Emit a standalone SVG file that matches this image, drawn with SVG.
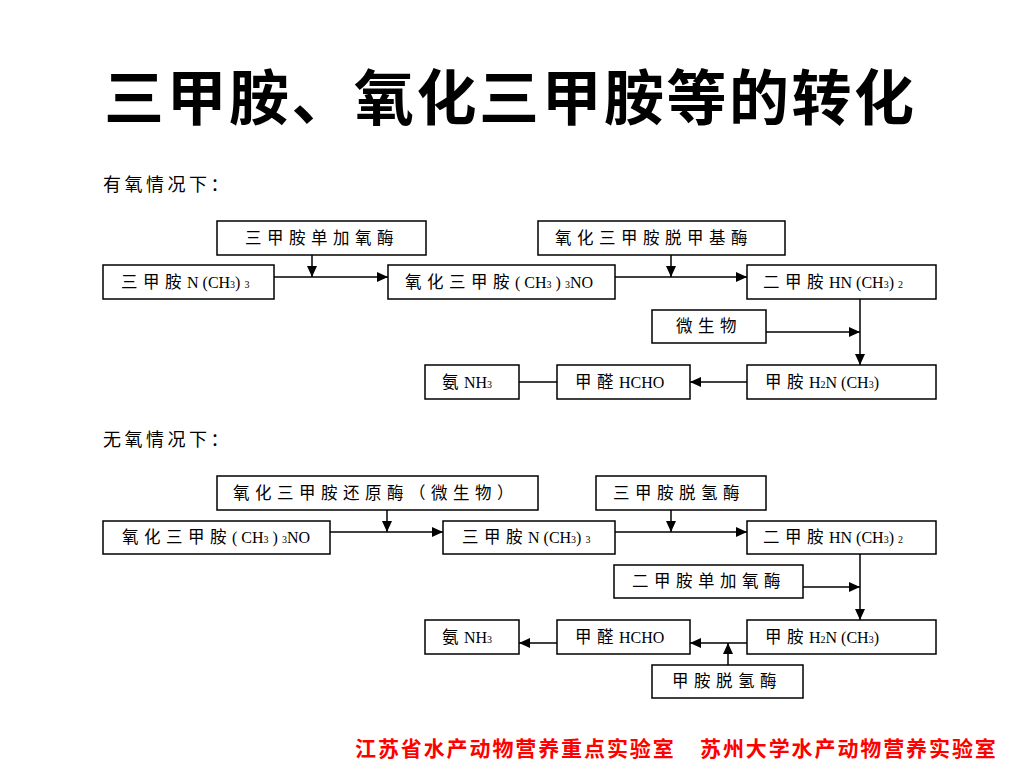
<svg xmlns="http://www.w3.org/2000/svg" width="1024" height="768" viewBox="0 0 1024 768">
<style>
.box{fill:#fff;stroke:#000;stroke-width:1.5}
.lbl{font-family:"Liberation Serif","Noto Sans CJK SC",serif;font-size:16px;fill:#000}
.cj{font-family:"Noto Sans CJK SC",sans-serif;font-size:16.5px;letter-spacing:5.5px}
.sub{font-size:10px}
.con{fill:none;stroke:#000;stroke-width:1.5}
.hdr{font-family:"Noto Sans CJK SC",sans-serif;font-size:18px;letter-spacing:3.5px;fill:#000}
</style>
<defs>
<marker id="ah" markerUnits="userSpaceOnUse" markerWidth="11" markerHeight="10" refX="11" refY="5" orient="auto">
<path d="M0,0 L11,5 L0,10 z" fill="#000"/>
</marker>
</defs>
<rect width="1024" height="768" fill="#fff"/>
<text x="104" y="120" font-family="Noto Sans CJK SC,sans-serif" font-size="60" font-weight="bold" letter-spacing="2.5" fill="#000">三甲胺、氧化三甲胺等的转化</text>
<text class="hdr" x="103" y="191">有氧情况下：</text>
<text class="hdr" x="103" y="446">无氧情况下：</text>

<g id="connectors">
<path class="con" d="M312,255 V277" marker-end="url(#ah)"/>
<path class="con" d="M274,277 H388" marker-end="url(#ah)"/>
<path class="con" d="M671,255 V277" marker-end="url(#ah)"/>
<path class="con" d="M615,277 H747" marker-end="url(#ah)"/>
<path class="con" d="M860,299 V365" marker-end="url(#ah)"/>
<path class="con" d="M766,332 H860" marker-end="url(#ah)"/>
<path class="con" d="M747,382 H690" marker-end="url(#ah)"/>
<path class="con" d="M557,382 H519"/>
<path class="con" d="M387,510 V532" marker-end="url(#ah)"/>
<path class="con" d="M330,532 H443" marker-end="url(#ah)"/>
<path class="con" d="M671,510 V532" marker-end="url(#ah)"/>
<path class="con" d="M615,532 H747" marker-end="url(#ah)"/>
<path class="con" d="M860,554 V620" marker-end="url(#ah)"/>
<path class="con" d="M803,587 H860" marker-end="url(#ah)"/>
<path class="con" d="M747,643 H690" marker-end="url(#ah)"/>
<path class="con" d="M728,665 V643" marker-end="url(#ah)"/>
<path class="con" d="M557,643 H519" marker-end="url(#ah)"/>
</g>

<g id="n1"><rect class="box" x="217" y="221" width="209" height="34"/>
<text class="lbl" x="245" y="244"><tspan class="cj">三甲胺单加氧酶</tspan></text></g>
<g id="n2"><rect class="box" x="103" y="265" width="171" height="34"/>
<text class="lbl" x="121" y="288"><tspan class="cj">三甲胺</tspan>N (CH<tspan class="sub">3</tspan>) <tspan class="sub">3</tspan></text></g>
<g id="n3"><rect class="box" x="388" y="265" width="227" height="34"/>
<text class="lbl" x="405" y="288"><tspan class="cj">氧化三甲胺</tspan>( CH<tspan class="sub">3</tspan> ) <tspan class="sub">3</tspan>NO</text></g>
<g id="n4"><rect class="box" x="538" y="221" width="247" height="34"/>
<text class="lbl" x="555" y="244"><tspan class="cj">氧化三甲胺脱甲基酶</tspan></text></g>
<g id="n5"><rect class="box" x="747" y="265" width="189" height="34"/>
<text class="lbl" x="763" y="288"><tspan class="cj">二甲胺</tspan>HN (CH<tspan class="sub">3</tspan>) <tspan class="sub">2</tspan></text></g>
<g id="n6"><rect class="box" x="652" y="310" width="114" height="33"/>
<text class="lbl" x="676" y="332"><tspan class="cj">微生物</tspan></text></g>
<g id="n7"><rect class="box" x="747" y="365" width="189" height="34"/>
<text class="lbl" x="765" y="388"><tspan class="cj">甲胺</tspan>H<tspan class="sub">2</tspan>N (CH<tspan class="sub">3</tspan>)</text></g>
<g id="n8"><rect class="box" x="557" y="365" width="133" height="34"/>
<text class="lbl" x="575" y="388"><tspan class="cj">甲醛</tspan>HCHO</text></g>
<g id="n9"><rect class="box" x="425" y="365" width="94" height="34"/>
<text class="lbl" x="442" y="388"><tspan class="cj">氨</tspan>NH<tspan class="sub">3</tspan></text></g>

<g id="n10"><rect class="box" x="217" y="476" width="321" height="34"/>
<text class="lbl" x="233" y="499"><tspan class="cj">氧化三甲胺还原酶（微生物）</tspan></text></g>
<g id="n11"><rect class="box" x="103" y="521" width="227" height="33"/>
<text class="lbl" x="122" y="543"><tspan class="cj">氧化三甲胺</tspan>( CH<tspan class="sub">3</tspan> ) <tspan class="sub">3</tspan>NO</text></g>
<g id="n12"><rect class="box" x="443" y="521" width="172" height="33"/>
<text class="lbl" x="462" y="543"><tspan class="cj">三甲胺</tspan>N (CH<tspan class="sub">3</tspan>) <tspan class="sub">3</tspan></text></g>
<g id="n13"><rect class="box" x="596" y="476" width="170" height="34"/>
<text class="lbl" x="613" y="499"><tspan class="cj">三甲胺脱氢酶</tspan></text></g>
<g id="n14"><rect class="box" x="747" y="521" width="189" height="33"/>
<text class="lbl" x="763" y="543"><tspan class="cj">二甲胺</tspan>HN (CH<tspan class="sub">3</tspan>) <tspan class="sub">2</tspan></text></g>
<g id="n15"><rect class="box" x="614" y="565" width="189" height="33"/>
<text class="lbl" x="632" y="587"><tspan class="cj">二甲胺单加氧酶</tspan></text></g>
<g id="n16"><rect class="box" x="747" y="620" width="189" height="34"/>
<text class="lbl" x="765" y="643"><tspan class="cj">甲胺</tspan>H<tspan class="sub">2</tspan>N (CH<tspan class="sub">3</tspan>)</text></g>
<g id="n17"><rect class="box" x="557" y="620" width="133" height="34"/>
<text class="lbl" x="575" y="643"><tspan class="cj">甲醛</tspan>HCHO</text></g>
<g id="n18"><rect class="box" x="425" y="620" width="94" height="34"/>
<text class="lbl" x="442" y="643"><tspan class="cj">氨</tspan>NH<tspan class="sub">3</tspan></text></g>
<g id="n19"><rect class="box" x="652" y="665" width="151" height="33"/>
<text class="lbl" x="672" y="687"><tspan class="cj">甲胺脱氢酶</tspan></text></g>

<text x="355" y="756" font-family="Noto Sans CJK SC,sans-serif" font-size="21" font-weight="bold" fill="#ff0000" letter-spacing="1.9">江苏省水产动物营养重点实验室<tspan x="700">苏州大学水产动物营养实验室</tspan></text>
</svg>
